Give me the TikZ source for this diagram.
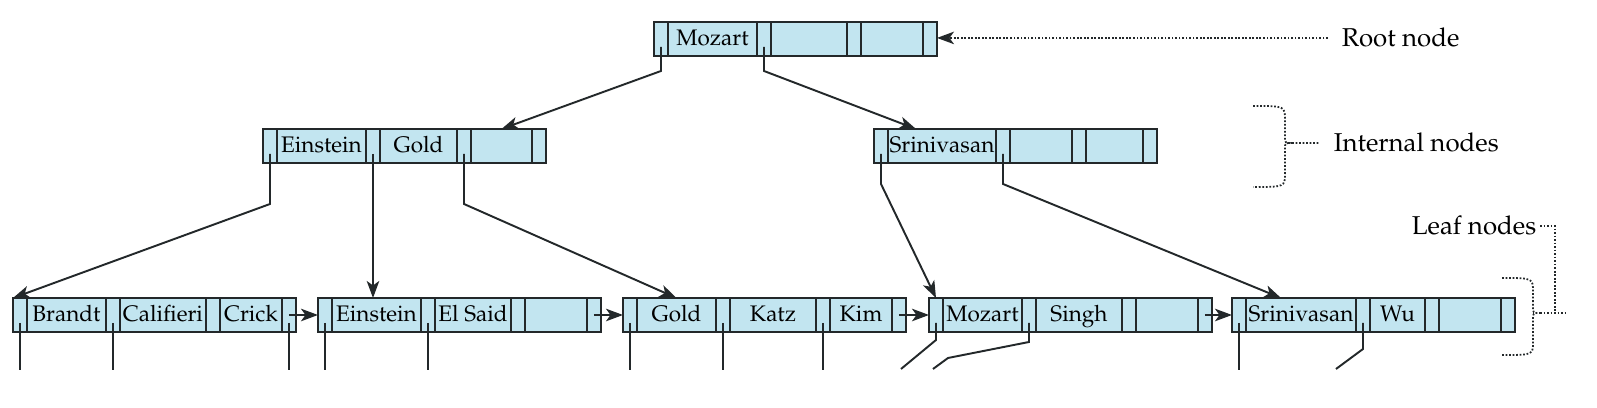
\documentclass[tikz,border=0pt]{standalone}
\usepackage[T1]{fontenc}
\usepackage{mathpazo}
\usepackage{tikz}
\usepackage{xcolor}
\usetikzlibrary{positioning,calc,arrows.meta}

\definecolor{cellblue}{RGB}{194,229,240}
\definecolor{inkgray}{RGB}{35,40,42}

\tikzset{
    cell/.style={draw=inkgray, fill=cellblue, line width=1.2pt, minimum height=0.68cm, inner sep=0pt, outer sep=0pt},
    ptrcell/.style={cell, minimum width=0.28cm},
    keycell/.style={cell, minimum width=#1*0.02cm, text height=1.5ex, text depth=0pt, font=\fontsize{12.8}{15}\selectfont},
    ptr/.style={line width=1.1pt, draw=inkgray},
    lbl/.style={font=\fontsize{14.7}{17}\selectfont, inner sep=2pt},
    lblline/.style={line width=1pt, densely dotted, draw=inkgray},
}

% one B+-tree node: name, x, y (top left), key widths, keys
\newcommand{\bpnode}[9]{%
    \node[ptrcell, anchor=north west] (#1-p1) at (#2,#3) {};
    \node[keycell=#4, right=0pt of #1-p1] (#1-k1) {#7};
    \node[ptrcell, right=0pt of #1-k1] (#1-p2) {};
    \node[keycell=#5, right=0pt of #1-p2] (#1-k2) {#8};
    \node[ptrcell, right=0pt of #1-k2] (#1-p3) {};
    \node[keycell=#6, right=0pt of #1-p3] (#1-k3) {#9};
    \node[ptrcell, right=0pt of #1-k3] (#1-p4) {};
}

\begin{document}
\begin{tikzpicture}[
            x=0.02cm, y=-0.02cm,
            >={Stealth[length=0.34cm, width=0.25cm, inset=0.09cm]}
        ]
            \useasboundingbox (0,0) rectangle (1597,408);

            % root and internal level
            \bpnode{root}{654}{22}{89}{76}{62}{Mozart}{}{}
            \bpnode{int1}{263}{129}{89}{77}{61}{Einstein}{Gold}{}
            \bpnode{int2}{874}{129}{108}{62}{57}{Srinivasan}{}{}

            % leaf level
            \bpnode{leaf1}{13}{298}{79}{86}{62}{Brandt}{Califieri}{Crick}
            \bpnode{leaf2}{318}{298}{89}{76}{62}{Einstein}{El Said}{}
            \bpnode{leaf3}{623}{298}{79}{86}{62}{Gold}{Katz}{Kim}
            \bpnode{leaf4}{929}{298}{79}{86}{62}{Mozart}{Singh}{}
            \bpnode{leaf5}{1232}{298}{110}{55}{62}{Srinivasan}{Wu}{}

            \coordinate (recbot) at (0,370);

            % tree pointers
            \draw[ptr,->] ($(root-p1.center)+(0,8)$) -- ($(root-p1.south)+(0,15)$) -- (int1-k3.north);
            \draw[ptr,->] ($(root-p2.center)+(0,8)$) -- ($(root-p2.south)+(0,15)$) -- ($(int2-k1.north west)+(28,0)$);
            \draw[ptr,->] ($(int1-p1.center)+(0,8)$) -- ($(int1-p1.south)+(0,41)$) -- (leaf1-p1.north west);
            \draw[ptr,->] ($(int1-p2.center)+(0,8)$) -- (int1-p2 |- leaf2-k1.north);
            \draw[ptr,->] ($(int1-p3.center)+(0,8)$) -- ($(int1-p3.south)+(0,41)$) -- (leaf3-k1.north);
            \draw[ptr,->] ($(int2-p1.center)+(0,8)$) -- ($(int2-p1.south)+(0,21)$) -- (leaf4-p1.north);
            \draw[ptr,->] ($(int2-p2.center)+(0,8)$) -- ($(int2-p2.south)+(0,21)$) -- ($(leaf5-k1.north west)+(35,0)$);

            % record pointers
            \foreach \c in {leaf1-p1,leaf1-p2,leaf1-p4,leaf2-p1,leaf2-p2,leaf3-p1,leaf3-p2,leaf3-p3,leaf5-p1}
                \draw[ptr] ($(\c.center)+(0,8)$) -- (\c.center |- recbot);
            \draw[ptr] ($(leaf4-p1.center)+(0,8)$) -- ($(leaf4-p1.south)+(0,8)$) -- ++(-35,29);
            \draw[ptr] ($(leaf4-p2.center)+(0,8)$) -- ($(leaf4-p2.south)+(0,10)$) -- ++(-81,16) -- ++(-15,11);
            \draw[ptr] ($(leaf5-p2.center)+(0,8)$) -- ($(leaf5-p2.south)+(0,17)$) -- ++(-27,20);

            % next-leaf pointers
            \foreach \a/\b in {leaf1/leaf2,leaf2/leaf3,leaf3/leaf4,leaf4/leaf5}
                \draw[ptr,->] (\a-p4.center) -- (\b-p1.west);

            % labels
            \node[lbl, anchor=base west] (rootlbl) at (1338,47) {Root node};
            \draw[lblline,->,shorten <=0.2cm] (rootlbl.west) -- (rootlbl.west -| root-p4.east);

            \draw[lblline] (1253,106) .. controls (1285,106) .. (1285,120) -- (1285,137)
                .. controls (1285,143) .. (1292,143) .. controls (1285,143) .. (1285,149)
                -- (1285,173) .. controls (1285,187) .. (1253,187);
            \coordinate (intbrace) at (1292,143);
            \node[lbl, anchor=base west] (intlbl) at (1330,152) {Internal nodes};
            \draw[lblline,shorten >=0.2cm] (intbrace) -- (intlbl.west);

            \draw[lblline] (1502,278) .. controls (1533,278) .. (1533,292) -- (1533,307)
                .. controls (1533,313) .. (1540,313) .. controls (1533,313) .. (1533,319)
                -- (1533,342) .. controls (1533,355) .. (1502,355);
            \coordinate (leafbrace) at (1540,313);
            \coordinate (leafjoin) at (1555,313);
            \coordinate (leafend) at (1567,313);
            \draw[lblline] (leafbrace) -- (leafend);
            \node[lbl, anchor=base west] (leaflbl) at (1408,235) {Leaf nodes};
            \draw[lblline] (leaflbl.east) -| (leafjoin);
        \end{tikzpicture}
\end{document}
